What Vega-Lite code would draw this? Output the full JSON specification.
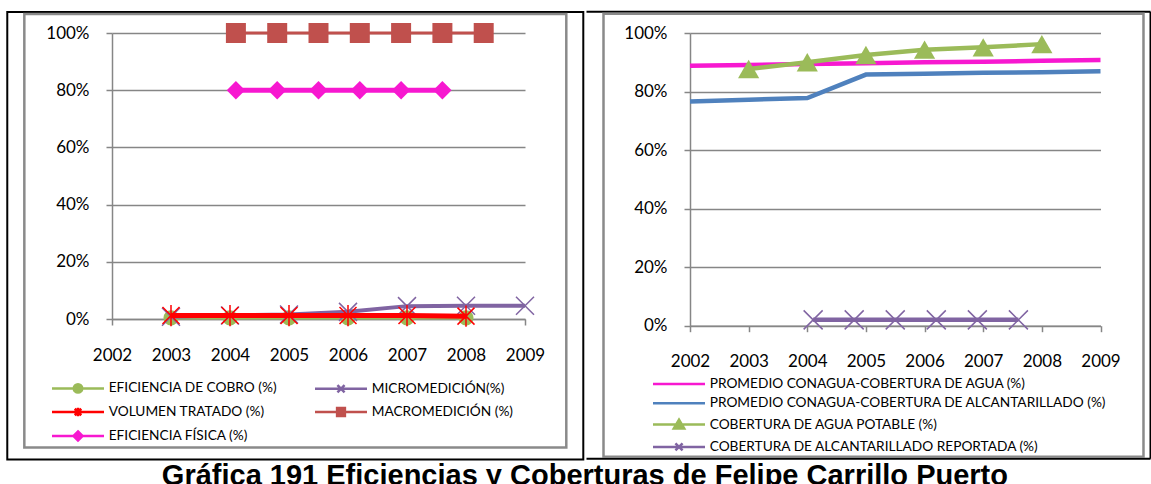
{
  "$schema": "https://vega.github.io/schema/vega-lite/v6.json",
  "padding": {"left": 6, "top": 10, "right": 0, "bottom": 0},
  "background": "white",
  "title": {"text": "Gráfica 191 Eficiencias y Coberturas de Felipe Carrillo Puerto", "orient": "bottom", "anchor": "middle", "font": "Liberation Sans", "fontSize": 29, "fontWeight": "bold", "color": "#000", "offset": 2, "dx": 6, "baseline": "top"},
  "datasets": {
    "left": [
      {"s": "EFICIENCIA DE COBRO (%)", "year": 2003, "v": 0.004},
      {"s": "EFICIENCIA DE COBRO (%)", "year": 2004, "v": 0.004},
      {"s": "EFICIENCIA DE COBRO (%)", "year": 2005, "v": 0.004},
      {"s": "EFICIENCIA DE COBRO (%)", "year": 2006, "v": 0.004},
      {"s": "EFICIENCIA DE COBRO (%)", "year": 2007, "v": 0.004},
      {"s": "EFICIENCIA DE COBRO (%)", "year": 2008, "v": 0.004},
      {"s": "MICROMEDICIÓN(%)", "year": 2003, "v": 0.008},
      {"s": "MICROMEDICIÓN(%)", "year": 2004, "v": 0.012},
      {"s": "MICROMEDICIÓN(%)", "year": 2005, "v": 0.016},
      {"s": "MICROMEDICIÓN(%)", "year": 2006, "v": 0.025},
      {"s": "MICROMEDICIÓN(%)", "year": 2007, "v": 0.045},
      {"s": "MICROMEDICIÓN(%)", "year": 2008, "v": 0.046},
      {"s": "MICROMEDICIÓN(%)", "year": 2009, "v": 0.046},
      {"s": "VOLUMEN TRATADO (%)", "year": 2003, "v": 0.012},
      {"s": "VOLUMEN TRATADO (%)", "year": 2004, "v": 0.012},
      {"s": "VOLUMEN TRATADO (%)", "year": 2005, "v": 0.012},
      {"s": "VOLUMEN TRATADO (%)", "year": 2006, "v": 0.012},
      {"s": "VOLUMEN TRATADO (%)", "year": 2007, "v": 0.012},
      {"s": "VOLUMEN TRATADO (%)", "year": 2008, "v": 0.010},
      {"s": "MACROMEDICIÓN (%)", "year": 2004.1, "v": 1.0},
      {"s": "MACROMEDICIÓN (%)", "year": 2004.8, "v": 1.0},
      {"s": "MACROMEDICIÓN (%)", "year": 2005.5, "v": 1.0},
      {"s": "MACROMEDICIÓN (%)", "year": 2006.2, "v": 1.0},
      {"s": "MACROMEDICIÓN (%)", "year": 2006.9, "v": 1.0},
      {"s": "MACROMEDICIÓN (%)", "year": 2007.6, "v": 1.0},
      {"s": "MACROMEDICIÓN (%)", "year": 2008.3, "v": 1.0},
      {"s": "EFICIENCIA FÍSICA (%)", "year": 2004.1, "v": 0.8},
      {"s": "EFICIENCIA FÍSICA (%)", "year": 2004.8, "v": 0.8},
      {"s": "EFICIENCIA FÍSICA (%)", "year": 2005.5, "v": 0.8},
      {"s": "EFICIENCIA FÍSICA (%)", "year": 2006.2, "v": 0.8},
      {"s": "EFICIENCIA FÍSICA (%)", "year": 2006.9, "v": 0.8},
      {"s": "EFICIENCIA FÍSICA (%)", "year": 2007.6, "v": 0.8}
    ],
    "right": [
      {"s": "PROMEDIO CONAGUA-COBERTURA DE AGUA (%)", "year": 2002, "v": 0.888},
      {"s": "PROMEDIO CONAGUA-COBERTURA DE AGUA (%)", "year": 2003, "v": 0.891},
      {"s": "PROMEDIO CONAGUA-COBERTURA DE AGUA (%)", "year": 2004, "v": 0.894},
      {"s": "PROMEDIO CONAGUA-COBERTURA DE AGUA (%)", "year": 2005, "v": 0.897},
      {"s": "PROMEDIO CONAGUA-COBERTURA DE AGUA (%)", "year": 2006, "v": 0.900},
      {"s": "PROMEDIO CONAGUA-COBERTURA DE AGUA (%)", "year": 2007, "v": 0.902},
      {"s": "PROMEDIO CONAGUA-COBERTURA DE AGUA (%)", "year": 2008, "v": 0.905},
      {"s": "PROMEDIO CONAGUA-COBERTURA DE AGUA (%)", "year": 2009, "v": 0.908},
      {"s": "PROMEDIO CONAGUA-COBERTURA DE ALCANTARILLADO (%)", "year": 2002, "v": 0.766},
      {"s": "PROMEDIO CONAGUA-COBERTURA DE ALCANTARILLADO (%)", "year": 2003, "v": 0.772},
      {"s": "PROMEDIO CONAGUA-COBERTURA DE ALCANTARILLADO (%)", "year": 2004, "v": 0.778},
      {"s": "PROMEDIO CONAGUA-COBERTURA DE ALCANTARILLADO (%)", "year": 2005, "v": 0.858},
      {"s": "PROMEDIO CONAGUA-COBERTURA DE ALCANTARILLADO (%)", "year": 2006, "v": 0.861},
      {"s": "PROMEDIO CONAGUA-COBERTURA DE ALCANTARILLADO (%)", "year": 2007, "v": 0.864},
      {"s": "PROMEDIO CONAGUA-COBERTURA DE ALCANTARILLADO (%)", "year": 2008, "v": 0.866},
      {"s": "PROMEDIO CONAGUA-COBERTURA DE ALCANTARILLADO (%)", "year": 2009, "v": 0.869},
      {"s": "COBERTURA DE AGUA POTABLE (%)", "year": 2003, "v": 0.877},
      {"s": "COBERTURA DE AGUA POTABLE (%)", "year": 2004, "v": 0.900},
      {"s": "COBERTURA DE AGUA POTABLE (%)", "year": 2005, "v": 0.925},
      {"s": "COBERTURA DE AGUA POTABLE (%)", "year": 2006, "v": 0.943},
      {"s": "COBERTURA DE AGUA POTABLE (%)", "year": 2007, "v": 0.951},
      {"s": "COBERTURA DE AGUA POTABLE (%)", "year": 2008, "v": 0.962},
      {"s": "COBERTURA DE ALCANTARILLADO REPORTADA (%)", "year": 2004.1, "v": 0.02},
      {"s": "COBERTURA DE ALCANTARILLADO REPORTADA (%)", "year": 2004.8, "v": 0.02},
      {"s": "COBERTURA DE ALCANTARILLADO REPORTADA (%)", "year": 2005.5, "v": 0.02},
      {"s": "COBERTURA DE ALCANTARILLADO REPORTADA (%)", "year": 2006.2, "v": 0.02},
      {"s": "COBERTURA DE ALCANTARILLADO REPORTADA (%)", "year": 2006.9, "v": 0.02},
      {"s": "COBERTURA DE ALCANTARILLADO REPORTADA (%)", "year": 2007.6, "v": 0.02}
    ]
  },
  "spacing": 0,
  "resolve": {"scale": {"color": "independent"}, "legend": {"color": "independent"}},
  "hconcat": [
    {
      "width": 413,
      "height": 286,
      "layer": [
        {"data": {"values": [{}]}, "mark": {"type": "rect", "fill": "transparent", "stroke": "#000", "strokeWidth": 2},
         "encoding": {"x": {"datum": 2000.225, "type": "quantitative"}, "x2": {"datum": 2009.988}, "y": {"datum": 1.0735, "type": "quantitative"}, "y2": {"datum": -0.4911}}},
        {"data": {"values": [{}]}, "mark": {"type": "rect", "fill": "transparent", "stroke": "#8a8a8a", "strokeWidth": 2.5},
         "encoding": {"x": {"datum": 2000.514, "type": "quantitative"}, "x2": {"datum": 2009.7}, "y": {"datum": 1.0665, "type": "quantitative"}, "y2": {"datum": -0.4491}}},
        {
          "data": {"name": "left"},
          "encoding": {
            "x": {"field": "year", "type": "quantitative", "scale": {"domain": [2002, 2009], "nice": false, "zero": false}, "axis": {"values": [2002, 2003, 2004, 2005, 2006, 2007, 2008, 2009], "format": "d"}},
            "y": {"field": "v", "type": "quantitative", "scale": {"domain": [0, 1], "nice": false}, "axis": {"values": [0, 0.2, 0.4, 0.6, 0.8, 1], "format": ".0%"}}
          },
          "layer": [
            {"transform": [{"filter": "datum.s === 'EFICIENCIA DE COBRO (%)'"}], "mark": {"type": "line", "strokeWidth": 3.5},
             "encoding": {"color": {"field": "s", "type": "nominal",
               "scale": {"domain": ["EFICIENCIA DE COBRO (%)", "VOLUMEN TRATADO (%)", "EFICIENCIA FÍSICA (%)", "MICROMEDICIÓN(%)", "MACROMEDICIÓN (%)"], "range": ["#9BBB59", "#FF0000", "#F718D0", "#8064A2", "#C0504D"]},
               "legend": {"title": null, "orient": "none", "legendX": -62, "legendY": 347, "columns": 2, "columnPadding": 32, "rowPadding": 4, "padding": 0,
                 "symbolSize": 169, "symbolStrokeWidth": 2.5, "symbolOffset": 20, "labelOffset": 22.7, "labelFont": "Lato", "labelFontSize": 13.7, "labelColor": "#000", "labelLimit": 600,
                 "encode": {"symbols": {"update": {
                   "shape": {"signal": "datum.value === 'EFICIENCIA DE COBRO (%)' ? 'M-4,0H4M0.65,0A0.65,0.65,0,1,1,-0.65,0A0.65,0.65,0,1,1,0.65,0Z' : datum.value === 'MICROMEDICIÓN(%)' ? 'M-4,0H4M-0.55,-0.55L0.55,0.55M-0.55,0.55L0.55,-0.55' : datum.value === 'VOLUMEN TRATADO (%)' ? 'M-4,0H4M-0.5,-0.5L0.5,0.5M-0.5,0.5L0.5,-0.5M0,-0.65L0,0.65' : datum.value === 'MACROMEDICIÓN (%)' ? 'M-4,0H4M-0.6,-0.6H0.6V0.6H-0.6Z' : 'M-4,0H4M0,-0.7L0.7,0L0,0.7L-0.7,0Z'"},
                   "fill": {"signal": "datum.value === 'EFICIENCIA DE COBRO (%)' ? '#9BBB59' : datum.value === 'MICROMEDICIÓN(%)' ? '#8064A2' : datum.value === 'VOLUMEN TRATADO (%)' ? '#FF0000' : datum.value === 'MACROMEDICIÓN (%)' ? '#C0504D' : '#F718D0'"},
                   "stroke": {"signal": "datum.value === 'EFICIENCIA DE COBRO (%)' ? '#9BBB59' : datum.value === 'MICROMEDICIÓN(%)' ? '#8064A2' : datum.value === 'VOLUMEN TRATADO (%)' ? '#FF0000' : datum.value === 'MACROMEDICIÓN (%)' ? '#C0504D' : '#F718D0'"},
                   "opacity": {"value": 1}, "fillOpacity": {"value": 1}, "strokeOpacity": {"value": 1}
                 }}}
               }}}},
            {"transform": [{"filter": "datum.s === 'EFICIENCIA DE COBRO (%)'"}], "mark": {"type": "point", "shape": "circle", "filled": true, "size": 227, "opacity": 1},
             "encoding": {"color": {"field": "s", "type": "nominal"}}},
            {"transform": [{"filter": "datum.s === 'MICROMEDICIÓN(%)'"}], "mark": {"type": "line", "strokeWidth": 4},
             "encoding": {"color": {"field": "s", "type": "nominal"}}},
            {"transform": [{"filter": "datum.s === 'MICROMEDICIÓN(%)'"}], "mark": {"type": "point", "shape": "M-1,-1L1,1M-1,1L1,-1", "filled": false, "size": 324, "strokeWidth": 1.5, "opacity": 1},
             "encoding": {"color": {"field": "s", "type": "nominal"}}},
            {"transform": [{"filter": "datum.s === 'VOLUMEN TRATADO (%)'"}], "mark": {"type": "line", "strokeWidth": 5},
             "encoding": {"color": {"field": "s", "type": "nominal"}}},
            {"transform": [{"filter": "datum.s === 'VOLUMEN TRATADO (%)'"}], "mark": {"type": "point", "shape": "M-1,-1L1,1M-1,1L1,-1M0,-1.25L0,1.25", "filled": false, "size": 289, "strokeWidth": 1.5, "opacity": 1},
             "encoding": {"color": {"field": "s", "type": "nominal"}}},
            {"transform": [{"filter": "datum.s === 'MACROMEDICIÓN (%)'"}], "mark": {"type": "line", "strokeWidth": 3},
             "encoding": {"color": {"field": "s", "type": "nominal"}}},
            {"transform": [{"filter": "datum.s === 'MACROMEDICIÓN (%)'"}], "mark": {"type": "point", "shape": "square", "filled": true, "size": 400, "opacity": 1},
             "encoding": {"color": {"field": "s", "type": "nominal"}}},
            {"transform": [{"filter": "datum.s === 'EFICIENCIA FÍSICA (%)'"}], "mark": {"type": "line", "strokeWidth": 5},
             "encoding": {"color": {"field": "s", "type": "nominal"}}},
            {"transform": [{"filter": "datum.s === 'EFICIENCIA FÍSICA (%)'"}], "mark": {"type": "point", "shape": "diamond", "filled": true, "size": 340, "opacity": 1},
             "encoding": {"color": {"field": "s", "type": "nominal"}}}
          ]
        }
      ]
    },
    {
      "width": 410.5,
      "height": 292.7,
      "layer": [
        {"data": {"values": [{}]}, "mark": {"type": "rule", "stroke": "#000", "strokeWidth": 2},
         "encoding": {"x": {"datum": 2000.235, "type": "quantitative"}, "x2": {"datum": 2009.853}, "y": {"datum": 1.0728, "type": "quantitative"}}},
        {"data": {"values": [{}]}, "mark": {"type": "rule", "stroke": "#000", "strokeWidth": 2},
         "encoding": {"x": {"datum": 2000.235, "type": "quantitative"}, "x2": {"datum": 2009.853}, "y": {"datum": -0.4544, "type": "quantitative"}}},
        {"data": {"values": [{}]}, "mark": {"type": "rule", "stroke": "#000", "strokeWidth": 2},
         "encoding": {"x": {"datum": 2009.853, "type": "quantitative"}, "y": {"datum": 1.0728, "type": "quantitative"}, "y2": {"datum": -0.4544}}},
        {"data": {"values": [{}]}, "mark": {"type": "rect", "fill": "transparent", "stroke": "#8a8a8a", "strokeWidth": 2.5},
         "encoding": {"x": {"datum": 2000.525, "type": "quantitative"}, "x2": {"datum": 2009.733}, "y": {"datum": 1.0659, "type": "quantitative"}, "y2": {"datum": -0.4476}}},
        {
          "data": {"name": "right"},
          "encoding": {
            "x": {"field": "year", "type": "quantitative", "scale": {"domain": [2002, 2009], "nice": false, "zero": false}, "axis": {"values": [2002, 2003, 2004, 2005, 2006, 2007, 2008, 2009], "format": "d"}},
            "y": {"field": "v", "type": "quantitative", "scale": {"domain": [0, 1], "nice": false}, "axis": {"values": [0, 0.2, 0.4, 0.6, 0.8, 1], "format": ".0%"}}
          },
          "layer": [
            {"transform": [{"filter": "datum.s === 'PROMEDIO CONAGUA-COBERTURA DE AGUA (%)'"}], "mark": {"type": "line", "strokeWidth": 4.5},
             "encoding": {"color": {"field": "s", "type": "nominal",
               "scale": {"domain": ["PROMEDIO CONAGUA-COBERTURA DE AGUA (%)", "PROMEDIO CONAGUA-COBERTURA DE ALCANTARILLADO (%)", "COBERTURA DE AGUA POTABLE (%)", "COBERTURA DE ALCANTARILLADO REPORTADA (%)"], "range": ["#F718D0", "#4F81BD", "#9BBB59", "#8064A2"]},
               "legend": {"title": null, "orient": "none", "legendX": -39, "legendY": 343, "columns": 1, "rowPadding": 4.3, "padding": 0,
                 "symbolSize": 169, "symbolStrokeWidth": 2.5, "symbolOffset": 20, "labelOffset": 22.7, "labelFont": "Lato", "labelFontSize": 13.7, "labelColor": "#000", "labelLimit": 600,
                 "encode": {"symbols": {"update": {
                   "shape": {"signal": "datum.value === 'COBERTURA DE AGUA POTABLE (%)' ? 'M-4,0H4M0,-0.75L0.8,0.6L-0.8,0.6Z' : datum.value === 'COBERTURA DE ALCANTARILLADO REPORTADA (%)' ? 'M-4,0H4M-0.55,-0.55L0.55,0.55M-0.55,0.55L0.55,-0.55' : 'M-4,0H4'"},
                   "fill": {"signal": "datum.value === 'PROMEDIO CONAGUA-COBERTURA DE AGUA (%)' ? '#F718D0' : datum.value === 'PROMEDIO CONAGUA-COBERTURA DE ALCANTARILLADO (%)' ? '#4F81BD' : datum.value === 'COBERTURA DE AGUA POTABLE (%)' ? '#9BBB59' : '#8064A2'"},
                   "stroke": {"signal": "datum.value === 'PROMEDIO CONAGUA-COBERTURA DE AGUA (%)' ? '#F718D0' : datum.value === 'PROMEDIO CONAGUA-COBERTURA DE ALCANTARILLADO (%)' ? '#4F81BD' : datum.value === 'COBERTURA DE AGUA POTABLE (%)' ? '#9BBB59' : '#8064A2'"},
                   "opacity": {"value": 1}, "fillOpacity": {"value": 1}, "strokeOpacity": {"value": 1}
                 }}}
               }}}},
            {"transform": [{"filter": "datum.s === 'PROMEDIO CONAGUA-COBERTURA DE ALCANTARILLADO (%)'"}], "mark": {"type": "line", "strokeWidth": 4.5},
             "encoding": {"color": {"field": "s", "type": "nominal"}}},
            {"transform": [{"filter": "datum.s === 'COBERTURA DE AGUA POTABLE (%)'"}], "mark": {"type": "line", "strokeWidth": 4.5},
             "encoding": {"color": {"field": "s", "type": "nominal"}}},
            {"transform": [{"filter": "datum.s === 'COBERTURA DE AGUA POTABLE (%)'"}], "mark": {"type": "point", "shape": "triangle-up", "filled": true, "size": 450, "opacity": 1},
             "encoding": {"color": {"field": "s", "type": "nominal"}}},
            {"transform": [{"filter": "datum.s === 'COBERTURA DE ALCANTARILLADO REPORTADA (%)'"}], "mark": {"type": "line", "strokeWidth": 4.5},
             "encoding": {"color": {"field": "s", "type": "nominal"}}},
            {"transform": [{"filter": "datum.s === 'COBERTURA DE ALCANTARILLADO REPORTADA (%)'"}], "mark": {"type": "point", "shape": "M-1,-1L1,1M-1,1L1,-1", "filled": false, "size": 361, "strokeWidth": 1.5, "opacity": 1},
             "encoding": {"color": {"field": "s", "type": "nominal"}}}
          ]
        }
      ]
    }
  ],
  "config": {
    "view": {"stroke": null},
    "axis": {"labelFont": "Lato", "labelFontSize": 17, "labelColor": "#000", "domainColor": "#868686", "domainWidth": 1.5, "tickColor": "#868686", "tickWidth": 1.5, "tickSize": 6, "gridColor": "#868686", "gridWidth": 1.5, "title": null, "labelFlush": false, "labelOverlap": false},
    "axisX": {"grid": false, "labelPadding": 22},
    "axisY": {"grid": true, "labelPadding": 17}
  }
}
